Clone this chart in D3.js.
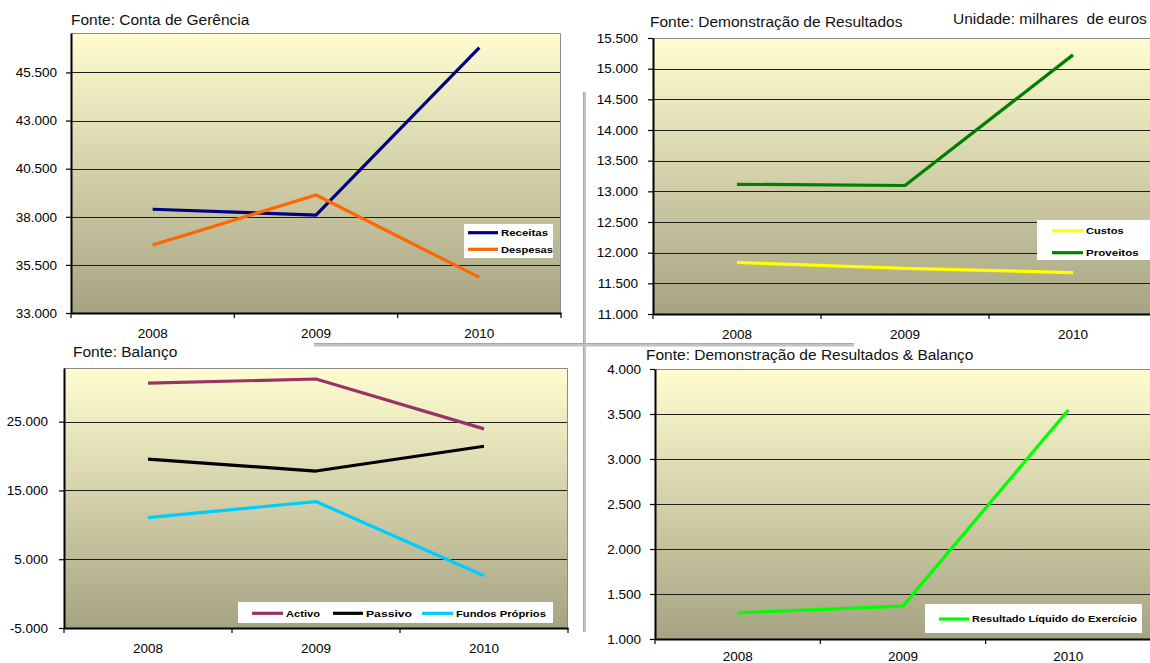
<!DOCTYPE html>
<html>
<head>
<meta charset="utf-8">
<script src="https://cdn.jsdelivr.net/npm/d3@7"></script>
<style>
  html, body { margin: 0; padding: 0; background: #fff; }
  svg { display: block; font-family: "Liberation Sans", Arial, sans-serif; }
</style>
</head>
<body>
<svg id="chart" width="1150" height="663"></svg>
<script>
// ---- data (milhares de euros) ----
const years = ["2008", "2009", "2010"];

const receitas = [38390, 38090, 46790];
const despesas = [36530, 39130, 34850];

const custos = [11840, 11745, 11675];
const proveitos = [13115, 13095, 15225];

const activo = [30600, 31200, 23950];
const passivo = [19550, 17820, 21420];
const fundosProprios = [11050, 13380, 2600];

const resultadoLiquido = [1290, 1365, 3545];

const ticksGerencia = [33000, 35500, 38000, 40500, 43000, 45500];
const ticksResultados = [11000, 11500, 12000, 12500, 13000, 13500, 14000, 14500, 15000, 15500];
const ticksBalanco = [-5000, 5000, 15000, 25000];
const ticksLiquido = [1000, 1500, 2000, 2500, 3000, 3500, 4000];

// Portuguese number format: 45.500
const pt = d3.formatLocale({ decimal: ",", thousands: ".", grouping: [3], currency: ["", " €"], minus: "-" });
const fmt = pt.format(",d");

const svg = d3.select("#chart");
const defs = svg.append("defs");
const grad = defs.append("linearGradient")
  .attr("id", "plotBg").attr("x1", 0).attr("y1", 0).attr("x2", 0).attr("y2", 1);
grad.append("stop").attr("offset", "0%").attr("stop-color", "#FFFDD0");
grad.append("stop").attr("offset", "100%").attr("stop-color", "#A6A383");

function drawPanel(cfg) {
  const g = svg.append("g");
  const x = d3.scaleBand().domain(years).range([cfg.left, cfg.right]);
  const y = d3.scaleLinear().domain(cfg.domain).range([cfg.bottom, cfg.top]);

  // plot area
  g.append("rect")
    .attr("x", cfg.left).attr("y", cfg.top)
    .attr("width", cfg.right - cfg.left).attr("height", cfg.bottom - cfg.top)
    .attr("fill", "url(#plotBg)");

  // horizontal gridlines
  g.append("g").selectAll("line")
    .data(cfg.ticks.filter(t => t > cfg.domain[0] && y(t) > cfg.top + 1))
    .join("line")
    .attr("x1", cfg.left).attr("x2", cfg.right)
    .attr("y1", d => Math.round(y(d)) + 0.5).attr("y2", d => Math.round(y(d)) + 0.5)
    .attr("stroke", "#1e1e1e").attr("stroke-width", 1);

  // top/right frame of the plot area
  g.append("path")
    .attr("d", `M${cfg.left},${cfg.top + 0.5}H${cfg.right - 0.5}V${cfg.bottom}`)
    .attr("fill", "none").attr("stroke", "#8a8a8a").attr("stroke-width", 1);

  // y axis
  const ya = g.append("g")
    .attr("transform", `translate(${cfg.left},0)`)
    .call(d3.axisLeft(y).tickValues(cfg.ticks).tickFormat(fmt)
      .tickSize(5).tickSizeOuter(0).tickPadding(cfg.yPad));
  ya.select(".domain").attr("stroke", "#000").attr("stroke-width", 2);
  ya.selectAll(".tick line").attr("stroke", "#000").attr("stroke-width", 1.2);
  ya.selectAll(".tick text").attr("font-size", "13.5px").attr("fill", "#000")
    .attr("font-family", "'Liberation Sans', Arial, sans-serif");

  // x axis with labels centred in each category
  const xa = g.append("g")
    .attr("transform", `translate(0,${cfg.bottom})`)
    .call(d3.axisBottom(x).tickSize(0).tickSizeOuter(0).tickPadding(cfg.xPad));
  xa.select(".domain").attr("stroke", "#000").attr("stroke-width", 2);
  xa.selectAll(".tick text").attr("font-size", "13.5px").attr("fill", "#000")
    .attr("font-family", "'Liberation Sans', Arial, sans-serif");

  // category boundary tick marks
  const bounds = years.map(d => x(d)).concat([x(years[years.length - 1]) + x.bandwidth()]);
  g.append("g").selectAll("line").data(bounds).join("line")
    .attr("x1", d => d).attr("x2", d => d)
    .attr("y1", cfg.bottom).attr("y2", cfg.bottom + 5)
    .attr("stroke", "#000").attr("stroke-width", 1.2);

  // series lines
  const line = d3.line()
    .x((d, i) => x(years[i]) + x.bandwidth() / 2)
    .y(d => y(d));
  cfg.series.forEach(s => {
    g.append("path")
      .datum(s.values)
      .attr("d", line)
      .attr("fill", "none")
      .attr("stroke", s.color)
      .attr("stroke-width", 3.2)
      .attr("stroke-linejoin", "round");
  });

  // title
  g.append("text")
    .attr("x", cfg.titleX).attr("y", cfg.titleY)
    .attr("font-size", "15.5px").attr("fill", "#111")
    .text(cfg.title);

  // legend
  const lg = cfg.legend;
  g.append("rect")
    .attr("x", lg.x).attr("y", lg.y).attr("width", lg.w).attr("height", lg.h)
    .attr("fill", "#fff");
  cfg.series.forEach((s, i) => {
    const it = lg.items[i];
    g.append("line")
      .attr("x1", it.x1).attr("x2", it.x2).attr("y1", it.y).attr("y2", it.y)
      .attr("stroke", s.color).attr("stroke-width", 3.2);
    g.append("text")
      .attr("x", it.x2 + 3).attr("y", it.y).attr("dy", "0.36em")
      .attr("font-size", "9.6px").attr("font-weight", "bold").attr("fill", "#000")
      .attr("textLength", it.w).attr("lengthAdjust", "spacingAndGlyphs")
      .text(s.name);
  });
}

drawPanel({
  left: 71, right: 561, top: 33, bottom: 313, domain: [33000, 47550], ticks: ticksGerencia, yPad: 9, xPad: 15,
  title: "Fonte: Conta de Gerência", titleX: 71, titleY: 25,
  series: [
    { name: "Receitas", values: receitas, color: "#000080" },
    { name: "Despesas", values: despesas, color: "#FF6600" }
  ],
  legend: { x: 464, y: 224, w: 89, h: 34,
    items: [{ x1: 468, x2: 498, y: 232.7, w: 47 }, { x1: 468, x2: 498, y: 249.3, w: 52 }] }
});

drawPanel({
  left: 653, right: 1157, top: 38, bottom: 314, domain: [11000, 15500], ticks: ticksResultados, yPad: 10, xPad: 15,
  title: "Fonte: Demonstração de Resultados", titleX: 650, titleY: 27,
  series: [
    { name: "Custos", values: custos, color: "#FFFF00" },
    { name: "Proveitos", values: proveitos, color: "#008000" }
  ],
  legend: { x: 1037, y: 220, w: 120, h: 40,
    items: [{ x1: 1052, x2: 1083, y: 230.7, w: 37.6 }, { x1: 1052, x2: 1083, y: 252.7, w: 52.7 }] }
});

drawPanel({
  left: 64, right: 568, top: 368, bottom: 628, domain: [-5000, 32800], ticks: ticksBalanco, yPad: 11, xPad: 15,
  title: "Fonte: Balanço", titleX: 73, titleY: 357,
  series: [
    { name: "Activo", values: activo, color: "#993366" },
    { name: "Passivo", values: passivo, color: "#000000" },
    { name: "Fundos Próprios", values: fundosProprios, color: "#00CCFF" }
  ],
  legend: { x: 238, y: 602, w: 315, h: 21,
    items: [{ x1: 252, x2: 283, y: 613.3, w: 34 },
            { x1: 333, x2: 363, y: 613.3, w: 46 },
            { x1: 422, x2: 453, y: 613.3, w: 90 }] }
});

drawPanel({
  left: 655, right: 1151, top: 369, bottom: 639, domain: [1000, 4000], ticks: ticksLiquido, yPad: 9, xPad: 12,
  title: "Fonte: Demonstração de Resultados & Balanço", titleX: 646, titleY: 360,
  series: [
    { name: "Resultado Líquido do Exercício", values: resultadoLiquido, color: "#00FF00" }
  ],
  legend: { x: 925, y: 604, w: 217, h: 29,
    items: [{ x1: 939, x2: 969, y: 619, w: 165 }] }
});

// unit note
svg.append("text")
  .attr("x", 953).attr("y", 24)
  .attr("font-size", "15.5px").attr("fill", "#111")
  .attr("xml:space", "preserve")
  .text("Unidade: milhares  de euros");

// grey separators between the four panels
const sep = svg.append("g");
sep.append("rect").attr("x", 583).attr("y", 92).attr("width", 3).attr("height", 540).attr("fill", "#C2C2C2");
sep.append("line").attr("x1", 583.5).attr("x2", 583.5).attr("y1", 92).attr("y2", 632).attr("stroke", "#A8A8A8");
sep.append("rect").attr("x", 314).attr("y", 343).attr("width", 540).attr("height", 3.5).attr("fill", "#C2C2C2");
sep.append("line").attr("x1", 314).attr("x2", 854).attr("y1", 343.5).attr("y2", 343.5).attr("stroke", "#A8A8A8");
</script>
</body>
</html>
